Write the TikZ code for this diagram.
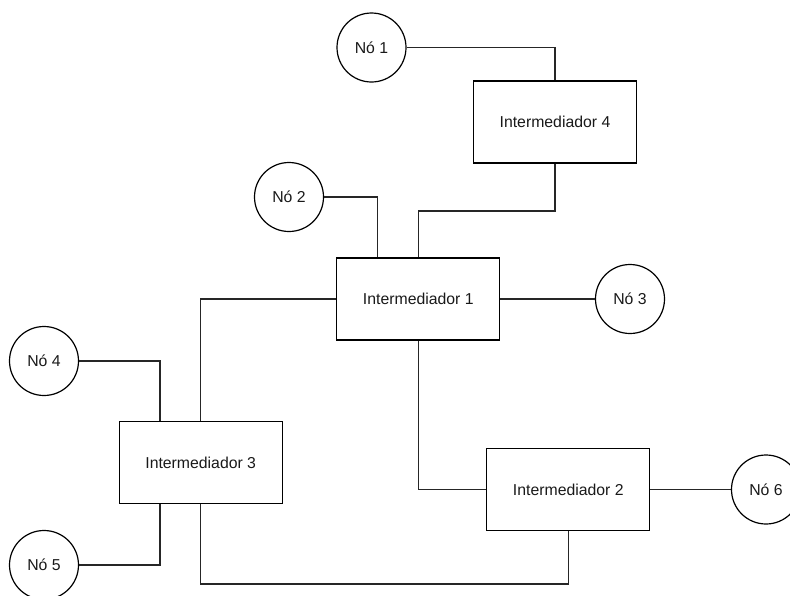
\documentclass[tikz,border=0pt]{standalone}
\usepackage{fontspec}
\setmainfont{Liberation Sans}
\begin{document}
\begin{tikzpicture}[x=1pt,y=-1pt,
  line width=1.2pt,
  every node/.style={font=\fontsize{15.8}{19}\selectfont, text=black!90},
  relay/.style={draw, rectangle, minimum width=163pt, minimum height=82pt, inner sep=0pt},
  peer/.style={draw, circle, minimum size=69pt, inner sep=0pt},
  link/.style={draw=black!85}]
  \useasboundingbox (0,0) rectangle (790,595);
  \clip (0,0) rectangle (790,595);

  % intermediaries
  \node[relay] (i4) at (555,122)   {Intermediador 4};
  \node[relay] (i1) at (418.3,299) {Intermediador 1};
  \node[relay] (i3) at (200.7,462.5) {Intermediador 3};
  \node[relay] (i2) at (568.3,489.5) {Intermediador 2};

  % end nodes
  \node[peer] (n1) at (371.5,47.5) {Nó 1};
  \node[peer] (n2) at (289,197)    {Nó 2};
  \node[peer] (n3) at (630,299)    {Nó 3};
  \node[peer] (n4) at (44,361)     {Nó 4};
  \node[peer] (n5) at (44,565)     {Nó 5};
  \node[peer] (n6) at (766,489.5)  {Nó 6};

  % bends of the longer routes
  \coordinate (b41) at (555,211);
  \coordinate (b32) at (200.7,584);

  % connections
  \draw[link] (n1) -| (i4);
  \draw[link] (i4) -- (b41) -| (i1);
  \draw[link] (n2) -| ([xshift=-41pt]i1.north);
  \draw[link] (i1) -- (n3);
  \draw[link] (i1) -| (i3);
  \draw[link] (n4) -| ([xshift=-40.7pt]i3.north);
  \draw[link] (n5) -| ([xshift=-40.7pt]i3.south);
  \draw[link] (i3) -- (b32) -| (i2);
  \draw[link] (i1) |- (i2);
  \draw[link] (i2) -- (n6);
\end{tikzpicture}
\end{document}
